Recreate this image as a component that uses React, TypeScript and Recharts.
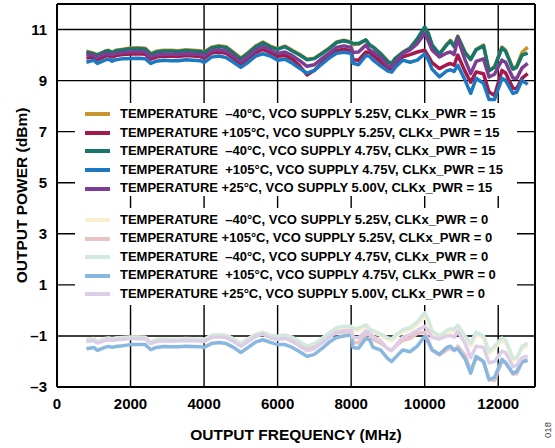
import React from 'react';
import { LineChart, Line, XAxis, YAxis, CartesianGrid, ReferenceLine, Legend, Label } from 'recharts';

const FONT = '"Liberation Sans", Arial, Helvetica, sans-serif';

// Output frequency sweep points (MHz)
const FREQ_MHZ = [
  800, 1000, 1100, 1300, 1400, 1500, 1600, 1800, 2000, 2200,
  2400, 2550, 2700, 2900, 3100, 3300, 3500, 3700, 3900, 4000,
  4200, 4400, 4600, 4800, 5000, 5200, 5400, 5600, 5800, 6000,
  6200, 6400, 6600, 6800, 7000, 7200, 7400, 7600, 7800, 8000,
  8050, 8200, 8400, 8500, 8600, 8800, 9000, 9100, 9200, 9400,
  9600, 9800, 10000, 10100, 10200, 10400, 10600, 10700, 10800, 10900,
  11100, 11250, 11400, 11600, 11750, 11900, 12100, 12200, 12400, 12500,
  12650, 12800,
];

// CLKx_PWR = 15 (dBm)
const P15_M40C_525V = [
  10.15, 10.07, 10.02, 10.15, 10.19, 10.11, 10.19, 10.23, 10.28, 10.29,
  10.27, 10.06, 10.15, 10.19, 10.19, 10.17, 10.21, 10.19, 10.17, 10.12,
  10.31, 10.37, 10.33, 10.11, 9.88, 10.11, 10.35, 10.51, 10.35, 10.25,
  10.35, 10.19, 10.03, 9.84, 9.88, 10.07, 10.27, 10.51, 10.58, 10.51,
  10.4, 10.43, 10.58, 10.39, 10.31, 10.07, 9.76, 9.68, 9.88, 10.11,
  10.28, 10.62, 11.02, 10.8, 10.39, 10.03, 10.43, 10.58, 10.35, 10.74,
  10.11, 9.84, 10.23, 10.39, 9.4, 9.56, 10.31, 10.19, 9.48, 9.56,
  10.11, 10.31,
];
const P15_105C_525V = [
  9.88, 9.92, 9.82, 9.95, 9.98, 9.92, 9.98, 10.02, 10.04, 10.05,
  10.03, 9.84, 9.92, 9.96, 9.95, 9.94, 9.98, 9.96, 9.94, 9.88,
  10.08, 10.12, 10.07, 9.87, 9.65, 9.86, 10.1, 10.22, 10.1, 9.95,
  9.98, 9.84, 9.58, 9.22, 9.4, 9.7, 9.96, 10.18, 10.22, 10.18,
  9.82, 9.8, 10.12, 10.1, 9.98, 9.74, 9.48, 9.45, 9.62, 9.93,
  10.02, 10.12, 10.19, 9.95, 9.7, 9.47, 9.62, 9.67, 9.6, 10.0,
  9.35, 8.94, 9.34, 9.27, 8.55, 8.42, 9.4, 9.3, 8.7, 8.68,
  9.1, 9.27,
];
const P15_M40C_475V = [
  10.12, 10.05, 10.0, 10.14, 10.17, 10.09, 10.17, 10.21, 10.25, 10.26,
  10.24, 10.03, 10.12, 10.16, 10.16, 10.14, 10.18, 10.16, 10.14, 10.09,
  10.28, 10.34, 10.3, 10.08, 9.85, 10.08, 10.32, 10.48, 10.32, 10.22,
  10.33, 10.16, 10.0, 9.82, 9.86, 10.05, 10.25, 10.49, 10.56, 10.49,
  10.45, 10.45, 10.6, 10.4, 10.31, 10.05, 9.74, 9.66, 9.86, 10.1,
  10.27, 10.64, 11.1, 10.85, 10.4, 10.04, 10.4, 10.55, 10.33, 10.72,
  10.09, 9.82, 10.21, 10.36, 9.38, 9.52, 10.28, 10.15, 9.45, 9.52,
  10.0, 10.08,
];
const P15_105C_475V = [
  9.72, 9.8, 9.67, 9.8, 9.84, 9.76, 9.82, 9.86, 9.87, 9.88,
  9.86, 9.67, 9.76, 9.8, 9.78, 9.78, 9.82, 9.8, 9.78, 9.71,
  9.92, 9.96, 9.9, 9.72, 9.52, 9.72, 9.96, 10.05, 9.96, 9.8,
  9.84, 9.68, 9.48, 9.29, 9.4, 9.64, 9.88, 10.07, 10.11, 10.07,
  9.68, 9.62, 9.98, 9.95, 9.8, 9.58, 9.37, 9.33, 9.52, 9.8,
  9.72, 9.8, 10.05, 9.8, 9.45, 9.15, 9.38, 9.42, 9.36, 9.6,
  9.01, 8.5, 9.09, 8.89, 8.26, 8.26, 9.09, 9.01, 8.5, 8.54,
  9.01, 8.85,
];
const P15_25C_500V = [
  10.02, 9.98, 9.9, 10.04, 10.06, 10.0, 10.06, 10.1, 10.13, 10.14,
  10.12, 9.92, 10.0, 10.04, 10.03, 10.02, 10.06, 10.04, 10.02, 9.96,
  10.16, 10.21, 10.16, 9.96, 9.73, 9.95, 10.19, 10.33, 10.2, 10.06,
  10.12, 9.98, 9.78, 9.56, 9.62, 9.86, 10.08, 10.3, 10.36, 10.3,
  10.1, 10.12, 10.39, 10.2, 10.12, 9.9, 9.58, 9.53, 9.72, 10.05,
  10.2, 10.45, 10.85, 10.55, 10.2, 9.93, 10.08, 10.12, 10.02, 10.65,
  9.8, 9.27, 9.75, 9.85, 9.14, 9.25, 9.8, 9.72, 9.1, 9.08,
  9.5, 9.67,
];

// CLKx_PWR = 0 (dBm)
const P0_M40C_525V = [
  -1.13, -1.1, -1.2, -1.1, -1.08, -1.11, -1.08, -1.06, -1.04, -1.04,
  -1.05, -1.22, -1.13, -1.11, -1.12, -1.12, -1.1, -1.11, -1.12, -1.14,
  -0.97, -0.94, -0.97, -1.11, -1.29, -1.11, -0.94, -0.85, -0.97, -1.02,
  -0.98, -1.08, -1.26, -1.43, -1.34, -1.13, -0.92, -0.72, -0.66, -0.66,
  -0.8, -0.78, -0.62, -0.78, -0.86, -0.98, -1.15, -1.2, -1.06, -0.84,
  -0.76, -0.55, -0.25, -0.48, -0.9, -1.1, -0.88, -0.82, -0.85, -0.68,
  -1.1, -1.4, -0.95, -1.1, -1.7, -1.5, -1.18, -1.25, -1.95, -1.92,
  -1.5, -1.38,
];
const P0_105C_525V = [
  -1.18, -1.14, -1.25, -1.14, -1.12, -1.15, -1.12, -1.1, -1.08, -1.08,
  -1.09, -1.28, -1.18, -1.16, -1.17, -1.17, -1.15, -1.16, -1.17, -1.2,
  -1.04, -1.0, -1.04, -1.18, -1.36, -1.18, -1.0, -0.9, -1.05, -1.1,
  -1.06, -1.18, -1.36, -1.5, -1.42, -1.22, -1.02, -0.88, -0.85, -0.82,
  -1.25, -1.28, -0.95, -0.94, -1.15, -1.28, -1.5, -1.56, -1.42, -1.18,
  -1.1, -0.9, -0.85, -1.15, -1.55, -1.75, -1.55, -1.48, -1.58, -1.4,
  -1.75, -2.35, -1.85, -2.0, -2.7, -2.75, -2.0, -2.05, -2.5, -2.48,
  -2.05, -1.95,
];
const P0_M40C_475V = [
  -1.15, -1.12, -1.22, -1.12, -1.1, -1.13, -1.1, -1.08, -1.06, -1.06,
  -1.07, -1.24, -1.15, -1.13, -1.14, -1.14, -1.12, -1.13, -1.14, -1.16,
  -0.98, -0.95, -0.98, -1.12, -1.3, -1.12, -0.95, -0.86, -0.98, -1.02,
  -0.96, -1.05, -1.22, -1.4, -1.3, -1.1, -0.88, -0.68, -0.62, -0.62,
  -0.72, -0.7, -0.56, -0.72, -0.8, -0.92, -1.08, -1.12, -0.98, -0.76,
  -0.68, -0.45, -0.1, -0.35, -0.8, -1.0, -0.78, -0.72, -0.75, -0.58,
  -1.0, -1.3, -0.85, -1.0, -1.61, -1.4, -1.08, -1.15, -1.87, -1.85,
  -1.4, -1.28,
];
const P0_105C_475V = [
  -1.5, -1.45, -1.57, -1.45, -1.41, -1.45, -1.41, -1.38, -1.34, -1.34,
  -1.34, -1.54, -1.45, -1.41, -1.42, -1.42, -1.4, -1.41, -1.42, -1.45,
  -1.3, -1.26, -1.3, -1.45, -1.65, -1.45, -1.24, -1.15, -1.25, -1.34,
  -1.34, -1.45, -1.62, -1.8, -1.72, -1.5, -1.25, -1.06, -1.0, -0.95,
  -1.45, -1.48, -1.1, -1.15, -1.45, -1.55, -1.9, -2.0, -1.85, -1.55,
  -1.62, -1.4, -1.02, -1.25, -1.55, -1.72, -1.45, -1.4, -1.55, -1.5,
  -1.9, -2.46, -1.8, -2.0, -2.72, -2.62, -1.92, -2.05, -2.46, -2.4,
  -2.0, -1.95,
];
const P0_25C_500V = [
  -1.22, -1.18, -1.28, -1.18, -1.15, -1.18, -1.15, -1.13, -1.11, -1.11,
  -1.12, -1.3, -1.22, -1.19, -1.2, -1.2, -1.18, -1.19, -1.2, -1.22,
  -1.06, -1.03, -1.07, -1.22, -1.4, -1.22, -1.02, -0.93, -1.08, -1.14,
  -1.1, -1.22, -1.4, -1.58, -1.5, -1.28, -1.06, -0.85, -0.8, -0.78,
  -1.05, -1.08, -0.8, -0.88, -1.02, -1.18, -1.52, -1.58, -1.4, -1.05,
  -0.95, -0.78, -0.62, -0.8, -1.05, -1.12, -1.0, -0.98, -1.05, -0.82,
  -1.3, -1.85, -1.4, -1.45, -2.05, -2.0, -1.6, -1.65, -2.2, -2.15,
  -1.85, -1.78,
];

const X_TICKS = [0, 2000, 4000, 6000, 8000, 10000, 12000];
const Y_TICKS = [-3, -1, 1, 3, 5, 7, 9, 11];

type Series = { key: string; label: string; color: string; values: number[] };

const GROUP_PWR15: Series[] = [
  { key: 'p15a', label: 'TEMPERATURE  \u201340\u00b0C, VCO SUPPLY 5.25V, CLKx_PWR = 15', color: '#c9962b', values: P15_M40C_525V },
  { key: 'p15b', label: 'TEMPERATURE +105\u00b0C, VCO SUPPLY 5.25V, CLKx_PWR = 15', color: '#a4184b', values: P15_105C_525V },
  { key: 'p15c', label: 'TEMPERATURE  \u201340\u00b0C, VCO SUPPLY 4.75V, CLKx_PWR = 15', color: '#16766b', values: P15_M40C_475V },
  { key: 'p15d', label: 'TEMPERATURE  +105\u00b0C, VCO SUPPLY 4.75V, CLKx_PWR = 15', color: '#1b78c1', values: P15_105C_475V },
  { key: 'p15e', label: 'TEMPERATURE +25\u00b0C, VCO SUPPLY 5.00V, CLKx_PWR = 15', color: '#7b3e92', values: P15_25C_500V },
];

const GROUP_PWR0: Series[] = [
  { key: 'p0a', label: 'TEMPERATURE  \u201340\u00b0C, VCO SUPPLY 5.25V, CLKx_PWR = 0', color: '#fcefd0', values: P0_M40C_525V },
  { key: 'p0b', label: 'TEMPERATURE +105\u00b0C, VCO SUPPLY 5.25V, CLKx_PWR = 0', color: '#e9c3c6', values: P0_105C_525V },
  { key: 'p0c', label: 'TEMPERATURE  \u201340\u00b0C, VCO SUPPLY 4.75V, CLKx_PWR = 0', color: '#d2eadd', values: P0_M40C_475V },
  { key: 'p0d', label: 'TEMPERATURE  +105\u00b0C, VCO SUPPLY 4.75V, CLKx_PWR = 0', color: '#88b8df', values: P0_105C_475V },
  { key: 'p0e', label: 'TEMPERATURE +25\u00b0C, VCO SUPPLY 5.00V, CLKx_PWR = 0', color: '#ddcee8', values: P0_25C_500V },
];

const ALL_SERIES = [...GROUP_PWR15, ...GROUP_PWR0];

const rows = FREQ_MHZ.map((freq, i) => {
  const row: Record<string, number> = { freq };
  ALL_SERIES.forEach((s) => {
    row[s.key] = s.values[i];
  });
  return row;
});

const fmtY = (v: number) => (v < 0 ? `\u2013${Math.abs(v)}` : String(v));

const LegendBox = ({ items, top, height, padTop }: { items: Series[]; top: number; height: number; padTop: number }) => (
  <div
    style={{
      position: 'absolute',
      left: 75,
      top,
      width: 442,
      height,
      background: '#fff',
      paddingTop: padTop,
      boxSizing: 'border-box',
    }}
  >
    {items.map((s) => (
      <div key={s.key} style={{ display: 'flex', alignItems: 'center', height: 18.6 }}>
        <div style={{ width: 25, height: 4, background: s.color, marginLeft: 10, marginRight: 10 }} />
        <span
          style={{
            fontFamily: FONT,
            fontWeight: 'bold',
            fontSize: 13,
            color: '#000',
            whiteSpace: 'pre',
            lineHeight: '18.6px',
          }}
        >
          {s.label}
        </span>
      </div>
    ))}
  </div>
);

const renderLegend = () => (
  <div style={{ position: 'relative', width: 555, height: 448 }}>
    <LegendBox items={GROUP_PWR15} top={103} height={93} padTop={2} />
    <LegendBox items={GROUP_PWR0} top={208} height={97} padTop={2.7} />
  </div>
);

export default function App() {
  return (
    <div style={{ position: 'absolute', left: 0, top: 0, width: 555, height: 448, background: '#fff' }}>
      <LineChart width={555} height={448} data={rows} margin={{ top: 4, right: 20, bottom: 0, left: 0 }}>
        <CartesianGrid stroke="#000" strokeWidth={1.4} />
        <XAxis
          dataKey="freq"
          type="number"
          domain={[0, 13000]}
          ticks={X_TICKS}
          height={61}
          tickSize={0}
          tickMargin={11}
          axisLine={{ stroke: '#000', strokeWidth: 2 }}
          tick={{ fill: '#000', fontFamily: FONT, fontWeight: 'bold', fontSize: 15 }}
        >
          <Label
            value="OUTPUT FREQUENCY (MHz)"
            position="insideBottom"
            offset={8}
            style={{ fill: '#000', fontFamily: FONT, fontWeight: 'bold', fontSize: 15.5 }}
          />
        </XAxis>
        <YAxis
          type="number"
          domain={[-3, 12]}
          ticks={Y_TICKS}
          width={57}
          tickSize={0}
          tickMargin={10}
          tickFormatter={fmtY}
          axisLine={{ stroke: '#000', strokeWidth: 2 }}
          tick={{ fill: '#000', fontFamily: FONT, fontWeight: 'bold', fontSize: 15 }}
        >
          <Label
            content={(props: any) => {
              const vb = props.viewBox || { x: 0, y: 4, height: 383 };
              const cx = 21;
              const cy = vb.y + vb.height / 2;
              return (
                <text
                  x={cx}
                  y={cy}
                  transform={`rotate(-90 ${cx} ${cy})`}
                  textAnchor="middle"
                  dominantBaseline="central"
                  style={{ fill: '#000', fontFamily: FONT, fontWeight: 'bold', fontSize: 15.5 }}
                >
                  OUTPUT POWER (dBm)
                </text>
              );
            }}
          />
        </YAxis>
        <ReferenceLine y={12} stroke="#000" strokeWidth={2} />
        <ReferenceLine x={13000} stroke="#000" strokeWidth={2} />
        <Legend
          layout="horizontal"
          verticalAlign="middle"
          align="center"
          content={renderLegend}
          wrapperStyle={{ left: 0, top: 0, width: 555, height: 448, pointerEvents: 'none' }}
        />
        {ALL_SERIES.map((s) => (
          <Line
            key={s.key}
            dataKey={s.key}
            type="linear"
            stroke={s.color}
            strokeWidth={3.5}
            strokeLinejoin="round"
            dot={false}
            activeDot={false}
            isAnimationActive={false}
          />
        ))}
      </LineChart>
      <span
        style={{
          position: 'absolute',
          left: 548,
          top: 430,
          transform: 'translate(-50%, -50%) rotate(-90deg)',
          fontFamily: FONT,
          fontSize: 9.5,
          color: '#444',
          whiteSpace: 'nowrap',
          lineHeight: 1,
        }}
      >
        018
      </span>
    </div>
  );
}
